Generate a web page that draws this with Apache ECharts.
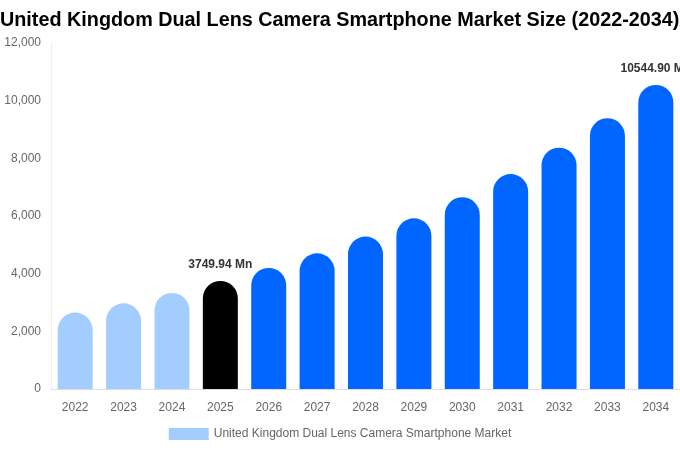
<!DOCTYPE html>
<html lang="en">
<head>
    <meta charset="UTF-8">
    <title>United Kingdom Dual Lens Camera Smartphone Market Size</title>
    <script src="https://cdn.jsdelivr.net/npm/echarts@6/dist/echarts.min.js"></script>
    <style>
        html, body { margin: 0; padding: 0; background: #fff; }
        #chart { width: 680px; height: 450px; }
    </style>
</head>
<body>
<div id="chart"></div>
<script>
    var years = ['2022', '2023', '2024', '2025', '2026', '2027', '2028', '2029', '2030', '2031', '2032', '2033', '2034'];
    var marketSize = [2650, 2970, 3330, 3749.94, 4200, 4705, 5285, 5920, 6650, 7455, 8370, 9390, 10544.90];
    var yTicks = [0, 2000, 4000, 6000, 8000, 10000, 12000];
    var seriesName = 'United Kingdom Dual Lens Camera Smartphone Market';
    var labelledYears = ['2025', '2034'];

    function barColor(i) {
        var y = +years[i];
        if (y < 2025) return '#a3cdfe';
        if (y === 2025) return '#000000';
        return '#0066ff';
    }

    var chart = echarts.init(document.getElementById('chart'));

    var option = {
        animation: false,
        title: {
            text: 'United Kingdom Dual Lens Camera Smartphone Market Size (2022-2034)',
            left: 0,
            top: 11,
            padding: 0,
            textStyle: {fontFamily: 'Liberation Sans', fontSize: 19.8, fontWeight: 'bold', color: '#000'}
        },
        legend: {
            bottom: 5,
            left: 'center',
            icon: 'rect',
            itemWidth: 40,
            itemHeight: 12,
            itemGap: 6,
            textStyle: {fontFamily: 'Liberation Sans', fontSize: 12, color: '#666'},
            data: [{name: seriesName, itemStyle: {color: '#a3cdfe'}}]
        },
        grid: {left: 51, right: 0, top: 43, bottom: 61},
        xAxis: {
            type: 'category',
            data: years,
            axisLine: {lineStyle: {color: '#ddd'}},
            axisTick: {show: false},
            axisLabel: {fontFamily: 'Liberation Sans', fontSize: 12, color: '#666', margin: 13}
        },
        yAxis: {
            type: 'value',
            min: yTicks[0],
            max: yTicks[yTicks.length - 1],
            interval: yTicks[1] - yTicks[0],
            axisLine: {show: true, lineStyle: {color: '#eee'}},
            axisTick: {show: false},
            splitLine: {show: false},
            axisLabel: {
                fontFamily: 'Liberation Sans', fontSize: 12, color: '#666', margin: 10,
                formatter: function (v) { return v.toLocaleString('en-US'); }
            }
        },
        series: [{
            name: seriesName,
            type: 'bar',
            barWidth: 35,
            data: marketSize.map(function (v, i) {
                var item = {value: v, itemStyle: {color: barColor(i), borderRadius: [17.5, 17.5, 0, 0]}};
                if (labelledYears.indexOf(years[i]) >= 0) {
                    item.label = {
                        show: true,
                        position: 'top',
                        distance: 10,
                        formatter: function (p) { return p.value.toFixed(2) + ' Mn'; },
                        fontFamily: 'Liberation Sans',
                        fontSize: 12,
                        fontWeight: 'bold',
                        color: '#333'
                    };
                }
                return item;
            })
        }]
    };

    chart.setOption(option);
</script>
</body>
</html>
